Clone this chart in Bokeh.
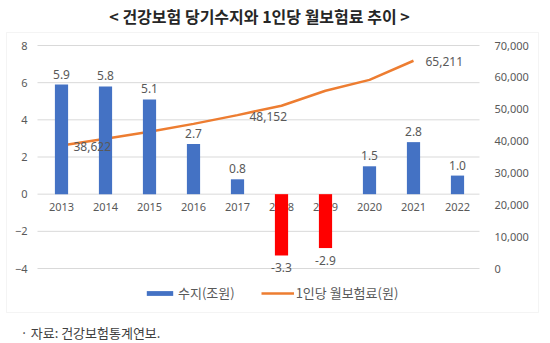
from bokeh.plotting import figure
from bokeh.models import (ColumnDataSource, Range1d, LinearAxis, FixedTicker,
                          NumeralTickFormatter, LabelSet, Label, Legend,
                          LegendItem, BoxAnnotation)
from bokeh.core.properties import value
from bokeh.embed import file_html
from bokeh.resources import INLINE

# ---- data ----
years = ["2013", "2014", "2015", "2016", "2017", "2018", "2019", "2020", "2021", "2022"]
balance = [5.9, 5.8, 5.1, 2.7, 0.8, -3.3, -2.9, 1.5, 2.8, 1.0]          # 수지(조원)
premium_years = ["2013", "2014", "2015", "2016", "2017", "2018", "2019", "2020", "2021"]
premium = [38622, 40700, 42900, 45400, 48152, 51100, 55800, 59200, 65211]  # 1인당 월보험료(원)
premium_label_years = ["2013", "2017", "2021"]
premium_label_values = [38622, 48152, 65211]
left_ticks = [-4, -2, 0, 2, 4, 6, 8]
right_ticks = [0, 10000, 20000, 30000, 40000, 50000, 60000, 70000]
title_text = "< 건강보험 당기수지와 1인당 월보험료 추이 >"
note_text = "· 자료: 건강보험통계연보."
legend_labels = ["수지(조원)", "1인당 월보험료(원)"]

BLUE = "#4472C4"
RED = "#FF0000"
ORANGE = "#ED7D31"
GREY = "#595959"
GRID = "#d9d9d9"
NUM_FONT = "Noto Sans"
KR_FONT = "Noto Sans CJK KR"

W, H = 550, 343

# ---- layout geometry (pixels) ----
PLOT_L, PLOT_R = 39, 479           # plot area left/right edges
PLOT_T, PLOT_B = 45, 268           # pixel of left-axis max / min
LMIN, LMAX = -4, 8
RMIN, RMAX = 0, 70000

n = len(years)
xpos = list(range(n))
cat_px = (PLOT_R - PLOT_L) / n
x0_px = PLOT_L + cat_px / 2
x_start = -x0_px / cat_px
x_end = (W - x0_px) / cat_px

upp = (LMAX - LMIN) / (PLOT_B - PLOT_T)          # units per pixel (left)
y_top = LMAX + PLOT_T * upp
y_bot = LMIN - (H - PLOT_B) * upp
r_scale = (RMAX - RMIN) / (LMAX - LMIN)
r_top = RMIN + (y_top - LMIN) * r_scale
r_bot = RMIN + (y_bot - LMIN) * r_scale

p = figure(width=W, height=H, x_range=Range1d(x_start, x_end),
           y_range=Range1d(y_bot, y_top),
           output_backend="svg", toolbar_location=None,
           min_border=0, x_axis_location=None, y_axis_location=None)
p.outline_line_color = None
p.background_fill_color = "white"
p.border_fill_color = "white"
p.xgrid.grid_line_color = None
p.ygrid.grid_line_color = None

p.extra_y_ranges = {"r": Range1d(r_bot, r_top)}

left_edge = -0.5 - 2 / cat_px
right_edge = n - 0.5

# horizontal gridlines at the left-axis ticks
p.segment(x0=[left_edge] * len(left_ticks), x1=[right_edge] * len(left_ticks),
          y0=left_ticks, y1=left_ticks, line_color=GRID, line_width=1,
          level="underlay")

# left axis
laxis = LinearAxis(ticker=FixedTicker(ticks=left_ticks), fixed_location=-0.5)
p.add_layout(laxis, "left")
# right axis
raxis = LinearAxis(y_range_name="r", ticker=FixedTicker(ticks=right_ticks),
                   formatter=NumeralTickFormatter(format="0,0"),
                   fixed_location=right_edge)
p.add_layout(raxis, "right")
# category axis at zero
xaxis = LinearAxis(ticker=FixedTicker(ticks=xpos),
                   major_label_overrides={i: y for i, y in zip(xpos, years)},
                   fixed_location=0)
p.add_layout(xaxis, "below")

for ax in [laxis, raxis, xaxis]:
    ax.axis_line_color = None
    ax.major_tick_line_color = None
    ax.minor_tick_line_color = None
    ax.major_tick_out = 0
    ax.major_tick_in = 0
    ax.minor_tick_out = 0
    ax.minor_tick_in = 0
    ax.major_label_text_color = GREY
    ax.major_label_text_font = NUM_FONT
    ax.major_label_text_font_size = "11px"
laxis.major_label_standoff = 12
raxis.major_label_standoff = 15
xaxis.major_label_standoff = 9

# bars
colors = [BLUE if v >= 0 else RED for v in balance]
bar_src = ColumnDataSource(dict(x=xpos, top=balance, color=colors))
bars = p.vbar(x="x", top="top", width=0.3, fill_color="color",
              line_color=None, source=bar_src)
bars.level = "annotation"

# line
line_src = ColumnDataSource(dict(x=[years.index(y) for y in premium_years], y=premium))
line = p.line(x="x", y="y", source=line_src, y_range_name="r",
              line_color=ORANGE, line_width=2.5)

# bar value labels
pos_i = [i for i, v in enumerate(balance) if v >= 0]
neg_i = [i for i, v in enumerate(balance) if v < 0]
pos_src = ColumnDataSource(dict(x=pos_i, y=[balance[i] for i in pos_i],
                                t=[f"{balance[i]:.1f}" for i in pos_i]))
neg_src = ColumnDataSource(dict(x=neg_i, y=[balance[i] for i in neg_i],
                                t=[f"{balance[i]:.1f}" for i in neg_i]))
p.add_layout(LabelSet(x="x", y="y", text="t", source=pos_src, text_align="center",
                      text_baseline="bottom", y_offset=6, text_color=GREY,
                      text_font=value(NUM_FONT), text_font_size="12px"))
p.add_layout(LabelSet(x="x", y="y", text="t", source=neg_src, text_align="center",
                      text_baseline="top", y_offset=-8, text_color=GREY,
                      text_font=value(NUM_FONT), text_font_size="12px"))

# line value labels
pl_src = ColumnDataSource(dict(x=[years.index(y) for y in premium_label_years],
                               y=premium_label_values,
                               t=[f"{v:,}" for v in premium_label_values]))
p.add_layout(LabelSet(x="x", y="y", text="t", source=pl_src, y_range_name="r",
                      text_align="left", text_baseline="middle", x_offset=12,
                      y_offset=-1, text_color=GREY, text_font=value(NUM_FONT),
                      text_font_size="12px"))

# legend (location: pixels from frame bottom-left)
legend = Legend(items=[LegendItem(label=legend_labels[0], renderers=[bars], index=0),
                       LegendItem(label=legend_labels[1], renderers=[line])],
                orientation="horizontal", location=(143, H - 302),
                glyph_width=33, glyph_height=6, label_height=16,
                label_standoff=2, spacing=26, padding=0, margin=0,
                border_line_color=None, background_fill_alpha=0,
                label_text_font=KR_FONT, label_text_font_size="13px",
                label_text_color=GREY)
p.add_layout(legend, "center")

# chart border box (screen units, y from bottom)
box = BoxAnnotation(left=6, right=538, top=H - 32, bottom=H - 312,
                    left_units="screen", right_units="screen",
                    top_units="screen", bottom_units="screen",
                    fill_alpha=0, line_color=GRID, line_width=1,
                    level="underlay")
p.add_layout(box)

# title and source note
p.add_layout(Label(x=259, y=H - 15, x_units="screen", y_units="screen",
                   text=title_text, text_align="center", text_baseline="middle",
                   text_font=KR_FONT, text_font_size="16px", text_font_style="bold",
                   text_color="#262626"))
p.add_layout(Label(x=20, y=H - 332, x_units="screen", y_units="screen",
                   text=note_text, text_align="left", text_baseline="middle",
                   text_font=KR_FONT, text_font_size="13px",
                   text_color="#404040"))

open("out.html", "w").write(file_html(p, INLINE))
